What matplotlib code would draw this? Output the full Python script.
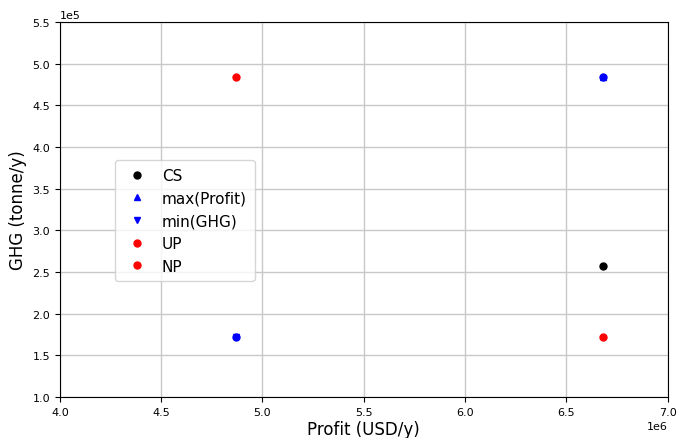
import matplotlib
matplotlib.use("Agg")
import matplotlib.pyplot as plt

# scenario results (profit in USD/y, GHG in tonne/y)
cs_profit = [6.68e6]
cs_ghg = [2.575e5]
maxp_profit = [6.68e6]
maxp_ghg = [4.84e5]
ming_profit = [4.87e6]
ming_ghg = [1.72e5]
up_profit = [4.87e6]
up_ghg = [4.84e5]
np_profit = [6.68e6]
np_ghg = [1.72e5]

fig, ax = plt.subplots(figsize=(6.8, 4.39), dpi=100)

ms = 5
ax.plot(cs_profit, cs_ghg, 'o', color='black', markersize=ms, label='CS')
ax.plot(maxp_profit, maxp_ghg, '^', color='blue', markersize=ms - 1, label='max(Profit)')
ax.plot(ming_profit, ming_ghg, 'v', color='blue', markersize=ms - 1, label='min(GHG)')
# the two scenarios sit on top of each other in the plot
ax.plot(maxp_profit, maxp_ghg, 'o', color='blue', markersize=ms)
ax.plot(ming_profit, ming_ghg, 'o', color='blue', markersize=ms)
ax.plot(up_profit, up_ghg, 'o', color='red', markersize=ms, label='UP')
ax.plot(np_profit, np_ghg, 'o', color='red', markersize=ms, label='NP')

ax.set_xlim(4.0e6, 7.0e6)
ax.set_ylim(1.0e5, 5.5e5)
ax.set_xticks([4.0e6, 4.5e6, 5.0e6, 5.5e6, 6.0e6, 6.5e6, 7.0e6])
ax.set_yticks([1.0e5, 1.5e5, 2.0e5, 2.5e5, 3.0e5, 3.5e5, 4.0e5, 4.5e5, 5.0e5, 5.5e5])
ax.ticklabel_format(style='sci', scilimits=(0, 0))
ax.tick_params(labelsize=8)
ax.xaxis.get_offset_text().set_fontsize(8)
ax.yaxis.get_offset_text().set_fontsize(8)
ax.grid(True, color='#c8c8c8', linewidth=1)
ax.set_axisbelow(True)

ax.set_xlabel('Profit (USD/y)', fontsize=12, labelpad=2)
ax.set_ylabel('GHG (tonne/y)', fontsize=12)

ax.legend(loc='center left', bbox_to_anchor=(0.09, 0.47), borderaxespad=0,
          fontsize=11, handletextpad=0.6, borderpad=0.5)

plt.subplots_adjust(left=0.088, right=0.982, top=0.948, bottom=0.093)
plt.savefig('out.png')
